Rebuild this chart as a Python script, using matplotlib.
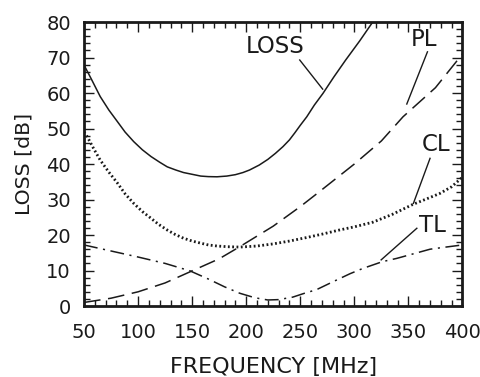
import matplotlib

matplotlib.use("Agg")
import matplotlib.pyplot as plt
from matplotlib.ticker import MultipleLocator

plt.rcParams["font.family"] = ["DejaVu Sans"]
plt.rcParams["lines.scale_dashes"] = False

# values
loss_f = [50, 57, 65, 73, 81, 88, 96, 104, 112, 120, 127, 135, 142, 150, 158, 165, 173, 182,
          190, 197, 203, 212, 220, 227, 234, 240, 245, 250, 256, 263, 271, 281, 292, 305, 317, 330]
loss_db = [67.9, 63.8, 59.0, 55.2, 51.9, 49.0, 46.3, 44.0, 42.1, 40.5, 39.2, 38.3, 37.6, 37.1, 36.6, 36.45, 36.4, 36.6,
           37.0, 37.6, 38.3, 39.7, 41.3, 43.0, 44.9, 46.8, 48.8, 50.9, 53.3, 56.6, 59.9, 64.5, 69.3, 74.7, 80.0, 86.0]

pl_f = [50, 75, 100, 125, 150, 175, 194, 225, 250, 266, 300, 325, 345, 375, 400]
pl_db = [1.0, 2.2, 4.0, 6.5, 9.9, 13.3, 16.7, 22.5, 28.0, 31.8, 40.0, 46.5, 53.3, 61.5, 71.0]

cl_f = [50, 53, 59, 65, 73, 81, 88, 96, 104, 112, 119, 127, 134, 142, 150, 158, 165, 173, 183,
        194, 210, 225, 240, 256, 271, 286, 300, 317, 335, 354, 367, 379, 390, 400]
cl_db = [49.0, 47.7, 44.3, 41.1, 37.7, 34.6, 31.6, 28.9, 26.6, 24.7, 23.0, 21.4, 20.2, 19.1, 18.3, 17.7, 17.2, 16.9, 16.7,
         16.6, 16.9, 17.5, 18.3, 19.3, 20.3, 21.4, 22.3, 23.6, 25.8, 28.6, 30.2, 31.7, 33.6, 36.3]

tl_f = [50, 75, 100, 125, 148, 165, 180, 194, 205, 212, 220, 230, 243, 254, 265, 280, 296, 308, 326, 339, 351, 370, 382, 400]
tl_db = [17.2, 15.5, 13.8, 12.0, 9.9, 7.6, 5.4, 3.6, 2.6, 2.1, 1.7, 1.8, 2.5, 3.6, 4.6, 6.8, 9.1, 10.6, 12.5, 13.4, 14.4, 16.0, 16.5, 17.2]

# curve labels: text, text position, leader start, leader end
labels = [
    ("LOSS", (226.8, 73.0), (249.5, 69.3), (270.7, 61.1)),
    ("PL", (364.4, 75.0), (367.6, 71.6), (348.5, 56.9)),
    ("CL", (375.6, 45.6), (370.0, 41.6), (354.6, 28.9)),
    ("TL", (371.8, 22.8), (357.8, 21.9), (324.8, 13.0)),
]

ink = "#1a1a1a"
fig = plt.figure(figsize=(4.8, 3.77), dpi=100)
ax = fig.add_axes([0.175, 0.1883, 0.7885, 0.7533])

ax.plot(loss_f, loss_db, color=ink, lw=1.1)
ax.plot(pl_f, pl_db, color=ink, lw=1.1, dashes=(12, 5.5))
ax.plot(cl_f, cl_db, color=ink, lw=2.0, dashes=(1.3, 1.8))
ax.plot(tl_f, tl_db, color=ink, lw=1.1, dashes=(10, 4, 1.5, 4))

for text, pos, p0, p1 in labels:
    ax.text(pos[0], pos[1], text, fontsize=16.5, ha="center", va="center", color=ink)
    ax.plot([p0[0], p1[0]], [p0[1], p1[1]], color=ink, lw=1.0)

ax.set_xlim(50, 400)
ax.set_ylim(0, 80)
ax.xaxis.set_major_locator(MultipleLocator(50))
ax.xaxis.set_minor_locator(MultipleLocator(10))
ax.yaxis.set_major_locator(MultipleLocator(10))
ax.yaxis.set_minor_locator(MultipleLocator(2))
ax.tick_params(which="both", direction="in", top=True, right=True, color=ink, width=1.0)
ax.tick_params(which="major", length=7, labelsize=14, labelcolor=ink)
ax.tick_params(axis="x", which="major", pad=12.5)
ax.tick_params(axis="y", which="major", pad=9.5)
ax.tick_params(which="minor", length=4)
for sp in ax.spines.values():
    sp.set_linewidth(2.0)
    sp.set_color(ink)

ax.set_xlabel("FREQUENCY [MHz]", fontsize=16, color=ink, labelpad=10.5)
ax.set_ylabel("LOSS [dB]", fontsize=14.7, color=ink, labelpad=9)

fig.savefig("out.png", dpi=100)
